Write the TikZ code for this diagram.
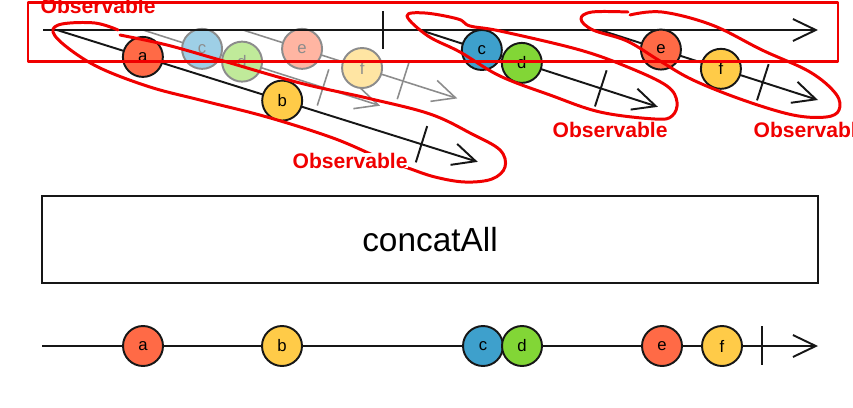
\documentclass[tikz,border=0pt]{standalone}
\usepackage{fontspec}
\setmainfont{Liberation Sans}
\usetikzlibrary{arrows.meta,positioning}
\definecolor{marbleRed}{RGB}{255,106,70}
\definecolor{marbleYellow}{RGB}{255,203,72}
\definecolor{marbleBlue}{RGB}{62,160,204}
\definecolor{marbleGreen}{RGB}{130,214,54}
\definecolor{lineBlack}{RGB}{22,22,22}
\definecolor{ghostGray}{RGB}{140,140,140}
\definecolor{markRed}{RGB}{240,0,0}

\begin{document}
\begin{tikzpicture}[x=0.02cm, y=-0.02cm, thick]
  % Styles
  \tikzstyle{timeline} = [draw=lineBlack, line width=1.1pt, -{Straight Barb[length=13pt,width=12.5pt]}]
  \tikzstyle{ghostline} = [timeline, draw=ghostGray, line width=0.9pt]
  \tikzstyle{endtick} = [draw=lineBlack, line width=1.1pt]
  \tikzstyle{ghosttick} = [draw=ghostGray, line width=0.9pt]
  \tikzstyle{marble} = [circle, draw=lineBlack, line width=1.1pt, minimum size=0.8cm, inner sep=0pt, font=\fontsize{9.5}{11}\selectfont]
  \tikzstyle{ghost} = [marble, draw=ghostGray, text=ghostGray]
  \tikzstyle{operator} = [rectangle, draw=lineBlack, line width=1.1pt, minimum width=15.52cm, minimum height=1.74cm, font=\fontsize{19}{22}\selectfont]
  \tikzstyle{markup} = [draw=markRed, line width=1.7pt, line cap=round, line join=round]
  \tikzstyle{marklabel} = [text=markRed, font=\bfseries\fontsize{12}{14}\selectfont, inner sep=0pt, anchor=base west]

  \useasboundingbox (0,0) rectangle (853,407);

  % Faded copies of the inner observables
  \begin{scope}[shift={(143,30)}, rotate=-17.7]
    \coordinate (g1start) at (0,0);
    \coordinate (g1end) at (249,0);
    \draw[ghostline] (g1start) -- (g1end);
    \draw[ghosttick] (189,-19) -- (189,19);
    \node[ghost, fill=marbleBlue!50!white] (g1c) at (62,0) {c};
    \node[ghost, fill=marbleGreen!50!white] (g1d) at (104,0) {d};
  \end{scope}
  \begin{scope}[shift={(243,30)}, rotate=-17.7]
    \coordinate (g2start) at (0,0);
    \coordinate (g2end) at (225,0);
    \draw[ghostline] (g2start) -- (g2end);
    \draw[ghosttick] (168,-19) -- (168,19);
    \node[ghost, fill=marbleRed!50!white] (g2e) at (62,0) {e};
    \node[ghost, fill=marbleYellow!50!white] (g2f) at (125,0) {f};
  \end{scope}

  % Outer observable
  \coordinate (topstart) at (43,30);
  \coordinate (topend) at (818,30);
  \draw[timeline] (topstart) -- (topend);
  \draw[endtick] (383,11) -- (383,49);

  % Inner observables
  \begin{scope}[shift={(57,30)}, rotate=-17.4]
    \coordinate (o1start) at (0,0);
    \coordinate (o1end) at (441,0);
    \draw[timeline] (o1start) -- (o1end);
    \draw[endtick] (382,-19) -- (382,19);
    \node[marble, fill=marbleRed] (o1a) at (90,0) {a};
    \node[marble, fill=marbleYellow] (o1b) at (236,0) {b};
  \end{scope}
  \begin{scope}[shift={(420,30)}, rotate=-17.9]
    \coordinate (o2start) at (0,0);
    \coordinate (o2end) at (250,0);
    \draw[timeline] (o2start) -- (o2end);
    \draw[endtick] (190,-19) -- (190,19);
    \node[marble, fill=marbleBlue] (o2c) at (65,0) {c};
    \node[marble, fill=marbleGreen] (o2d) at (107,0) {d};
  \end{scope}
  \begin{scope}[shift={(600,30)}, rotate=-17.8]
    \coordinate (o3start) at (0,0);
    \coordinate (o3end) at (229,0);
    \draw[timeline] (o3start) -- (o3end);
    \draw[endtick] (171,-19) -- (171,19);
    \node[marble, fill=marbleRed] (o3e) at (64,0) {e};
    \node[marble, fill=marbleYellow] (o3f) at (127,0) {f};
  \end{scope}

  % Operator
  \node[operator] (concat) at (430,239.5) {concatAll};

  % Result
  \coordinate (outstart) at (42,346);
  \coordinate (outend) at (818,346);
  \draw[timeline] (outstart) -- (outend);
  \draw[endtick] (762,326) -- (762,365);
  \node[marble, fill=marbleRed] (outa) at (143,346) {a};
  \node[marble, fill=marbleYellow] (outb) at (282,346) {b};
  \node[marble, fill=marbleBlue] (outc) at (483,346) {c};
  \node[marble, fill=marbleGreen] (outd) at (522,346) {d};
  \node[marble, fill=marbleRed] (oute) at (662,346) {e};
  \node[marble, fill=marbleYellow] (outf) at (722,346) {f};

  % Hand-drawn marks
  \draw[markup] (28,2) rectangle (838,61);
  \draw[markup] plot[smooth, tension=0.6] coordinates {(120,35) (167,45) (220,60) (300,83) (367,98) (430,114) (472,134) (500,150) (505,167) (492,179) (465,182) (435,177) (408,168) (380,158) (333,138) (267,117) (200,100) (150,87) (100,68) (68,48) (53,32) (62,24) (95,23) (118,30)};
  \draw[markup] plot[smooth cycle, tension=0.6] coordinates {(407,16) (425,13) (458,19) (470,26) (500,31) (580,50) (630,68) (667,86) (677,102) (672,116) (655,119) (600,112) (550,95) (500,76) (460,52) (428,36)};
  \draw[markup] plot[smooth, tension=0.6] coordinates {(630,15) (662,12) (712,25) (762,50) (810,72) (836,94) (839,110) (826,117) (793,115) (743,100) (693,80) (660,61) (627,41) (593,30) (581,19) (592,12) (628,12)};
  \node[marklabel] (lblTop) at (40,13.5) {Observable};
  \node[marklabel, fill=white] (lbl1) at (292,168) {Observable};
  \node[marklabel] (lbl2) at (552,137) {Observable};
  \node[marklabel] (lbl3) at (753,137) {Observable};
\end{tikzpicture}
\end{document}
